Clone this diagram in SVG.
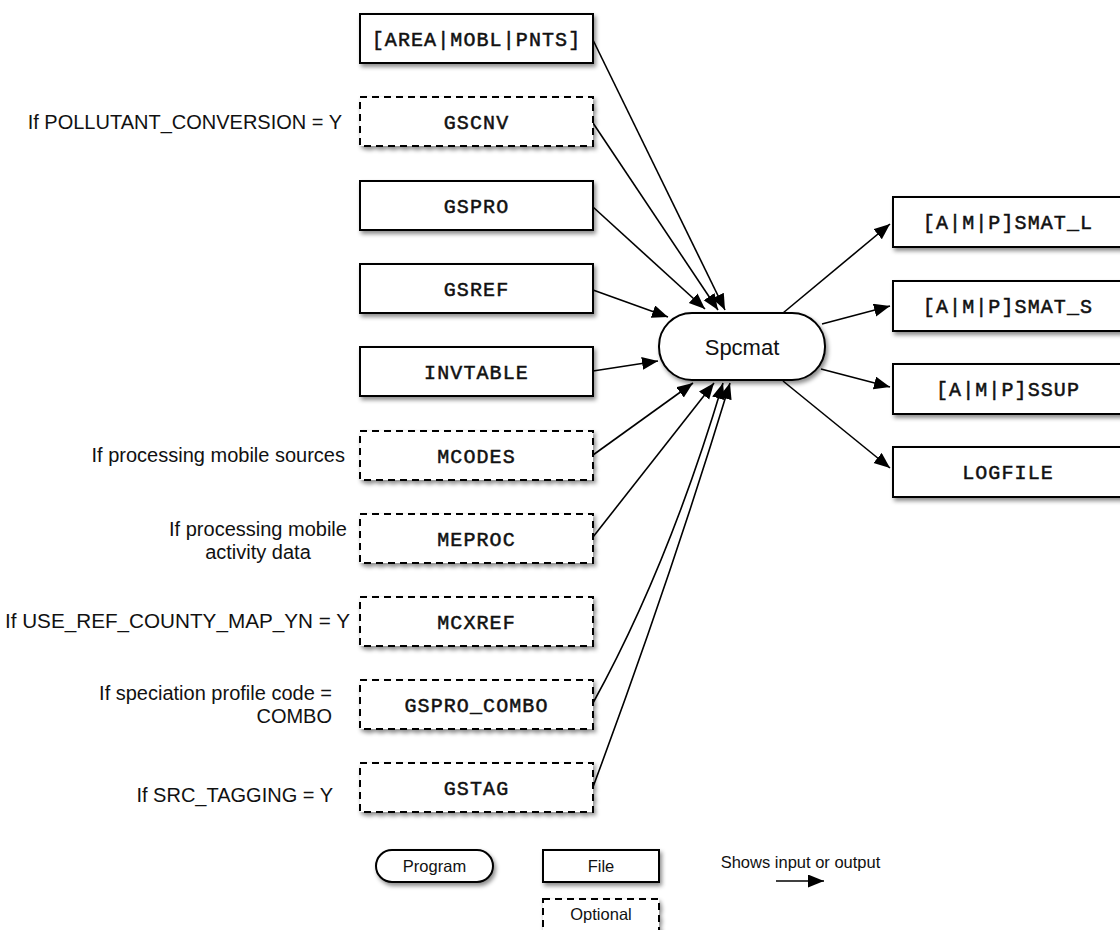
<svg xmlns="http://www.w3.org/2000/svg" width="1120" height="930" viewBox="0 0 1120 930">
<style>
.box{fill:#fff;stroke:#000;stroke-width:2;filter:url(#sh)}
.opt{fill:#fff;stroke:#000;stroke-width:2;stroke-dasharray:7 5;filter:url(#sh)}
.mono{font-family:"Liberation Mono",monospace;font-size:20px;letter-spacing:1.1px;text-anchor:middle;fill:#111;stroke:#111;stroke-width:0.5}
.lbl{font-family:"Liberation Sans",Arial,sans-serif;font-size:20px;fill:#111}
.leg{font-family:"Liberation Sans",Arial,sans-serif;font-size:16.5px;fill:#111;text-anchor:middle}
.conn path{fill:none;stroke:#000;stroke-width:1.6;marker-end:url(#ah)}
</style>
<defs>
<filter id="sh" x="-10%" y="-20%" width="130%" height="160%">
<feDropShadow dx="2" dy="3" stdDeviation="2" flood-color="#000" flood-opacity="0.45"/>
</filter>
<marker id="ah" markerUnits="userSpaceOnUse" markerWidth="18" markerHeight="14" refX="16" refY="6.5" orient="auto">
<path d="M0,0 L16,6.5 L0,13 z" fill="#000"/>
</marker>
</defs>
<rect width="1120" height="930" fill="#fff"/>

<g id="labels">
<text class="lbl" x="342" y="129" text-anchor="end">If POLLUTANT_CONVERSION = Y</text>
<text class="lbl" x="345" y="462" text-anchor="end">If processing mobile sources</text>
<text class="lbl" x="258" y="536" text-anchor="middle">If processing mobile</text>
<text class="lbl" x="258" y="559" text-anchor="middle">activity data</text>
<text class="lbl" x="350" y="628" text-anchor="end" style="font-size:20.7px">If USE_REF_COUNTY_MAP_YN = Y</text>
<text class="lbl" x="332" y="700" text-anchor="end">If speciation profile code =</text>
<text class="lbl" x="332" y="723" text-anchor="end">COMBO</text>
<text class="lbl" x="333" y="802" text-anchor="end">If SRC_TAGGING = Y</text>
</g>

<g id="conns" class="conn">
<path d="M593,40 L725,310"/>
<path d="M593,123 L718,310"/>
<path d="M593,207 L705,309"/>
<path d="M593,290 L668,317"/>
<path d="M593,371 L658,361"/>
<path d="M593,455 L693,383"/>
<path d="M593,537 L714,383"/>
<path d="M593,703 Q668,567 723,383"/>
<path d="M593,787 Q670,580 730,383"/>
<path d="M783,313 L890,224"/>
<path d="M822,324 L890,306"/>
<path d="M821,369 L890,387"/>
<path d="M783,381 L890,468"/>
</g>

<g id="n-ampnts"><rect class="box" x="360" y="14" width="233" height="49"/><text class="mono" x="476.5" y="45.5">[AREA|MOBL|PNTS]</text></g>
<g id="n-gscnv"><rect class="opt" x="360" y="97" width="233" height="49"/><text class="mono" x="476.5" y="128.5">GSCNV</text></g>
<g id="n-gspro"><rect class="box" x="360" y="181" width="233" height="49"/><text class="mono" x="476.5" y="212.5">GSPRO</text></g>
<g id="n-gsref"><rect class="box" x="360" y="264" width="233" height="49"/><text class="mono" x="476.5" y="295.5">GSREF</text></g>
<g id="n-invtable"><rect class="box" x="360" y="347" width="233" height="49"/><text class="mono" x="476.5" y="378.5">INVTABLE</text></g>
<g id="n-mcodes"><rect class="opt" x="360" y="431" width="233" height="49"/><text class="mono" x="476.5" y="462.5">MCODES</text></g>
<g id="n-meproc"><rect class="opt" x="360" y="514" width="233" height="49"/><text class="mono" x="476.5" y="545.5">MEPROC</text></g>
<g id="n-mcxref"><rect class="opt" x="360" y="597" width="233" height="49"/><text class="mono" x="476.5" y="628.5">MCXREF</text></g>
<g id="n-gsprocombo"><rect class="opt" x="360" y="680" width="233" height="49"/><text class="mono" x="476.5" y="711.5">GSPRO_COMBO</text></g>
<g id="n-gstag"><rect class="opt" x="360" y="763" width="233" height="49"/><text class="mono" x="476.5" y="794.5">GSTAG</text></g>

<g id="n-spcmat"><rect class="box" x="659" y="313" width="166" height="67" rx="33" ry="33"/><text x="742" y="355" text-anchor="middle" style="font-family:'Liberation Sans',Arial,sans-serif;font-size:22px;fill:#111">Spcmat</text></g>

<g id="n-smatl"><rect class="box" x="893" y="197" width="233" height="50"/><text class="mono" x="1008" y="229">[A|M|P]SMAT_L</text></g>
<g id="n-smats"><rect class="box" x="893" y="281" width="233" height="50"/><text class="mono" x="1008" y="313">[A|M|P]SMAT_S</text></g>
<g id="n-ssup"><rect class="box" x="893" y="364" width="233" height="50"/><text class="mono" x="1008" y="396">[A|M|P]SSUP</text></g>
<g id="n-logfile"><rect class="box" x="893" y="447" width="233" height="50"/><text class="mono" x="1008" y="479">LOGFILE</text></g>

<g id="legend">
<g id="leg-program"><rect class="box" x="376" y="850" width="117" height="32" rx="16" ry="16"/><text class="leg" x="434.5" y="872">Program</text></g>
<g id="leg-file"><rect class="box" x="543" y="850" width="116" height="32"/><text class="leg" x="601" y="872">File</text></g>
<g id="leg-optional"><rect class="opt" x="543" y="899" width="116" height="36"/><text class="leg" x="601" y="920">Optional</text></g>
<g id="leg-arrow"><text class="leg" x="800.5" y="868">Shows input or output</text><path d="M776,881 L824,881" fill="none" stroke="#000" stroke-width="1.6" marker-end="url(#ah)"/></g>
</g>
</svg>
